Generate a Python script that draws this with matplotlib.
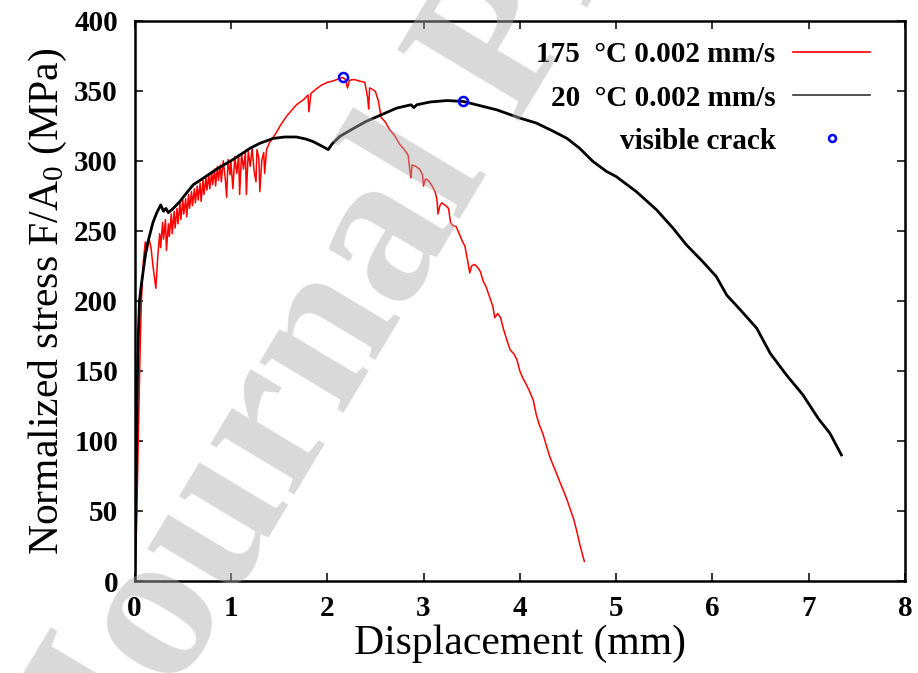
"""Normalized stress vs displacement for two test temperatures, gnuplot-like styling."""

import matplotlib

matplotlib.use("Agg")
import matplotlib.pyplot as plt
from matplotlib.lines import Line2D

plt.rcParams["font.family"] = ["Liberation Serif", "DejaVu Serif"]
plt.rcParams["mathtext.fontset"] = "custom"
plt.rcParams["mathtext.rm"] = "Liberation Serif"
plt.rcParams["mathtext.it"] = "Liberation Serif:italic"

# 175 C, 0.002 mm/s (serrated curve)
hot_x = [0.0, 0.02, 0.04, 0.06, 0.07, 0.09, 0.11, 0.13, 0.15, 0.17, 0.19, 0.22, 0.24, 0.26, 0.27,
         0.29, 0.30, 0.32, 0.33, 0.35, 0.36, 0.38, 0.39, 0.41, 0.42, 0.44, 0.45, 0.47, 0.48, 0.50,
         0.51, 0.53, 0.54, 0.56, 0.57, 0.59, 0.60, 0.62, 0.63, 0.65, 0.66, 0.68, 0.69, 0.71, 0.72,
         0.74, 0.75, 0.77, 0.78, 0.80, 0.81, 0.83, 0.84, 0.86, 0.87, 0.89, 0.90, 0.92, 0.94, 0.955,
         0.97, 0.99, 1.00, 1.02, 1.04, 1.06, 1.08, 1.09, 1.11, 1.13, 1.15, 1.16, 1.18, 1.20, 1.22,
         1.24, 1.26, 1.27, 1.29, 1.30, 1.32, 1.34, 1.35, 1.37, 1.40, 1.44, 1.47, 1.52, 1.58, 1.63,
         1.68, 1.72, 1.76, 1.80, 1.81, 1.83, 1.88, 1.94, 2.00, 2.06, 2.12, 2.16, 2.19, 2.21, 2.23,
         2.28, 2.33, 2.39, 2.42, 2.43, 2.44, 2.47, 2.50, 2.53, 2.56, 2.60, 2.65, 2.70, 2.75, 2.80,
         2.84, 2.86, 2.87, 2.88, 2.92, 2.96, 2.99, 3.00, 3.02, 3.05, 3.09, 3.12, 3.14, 3.15, 3.17,
         3.19, 3.23, 3.26, 3.28, 3.30, 3.34, 3.37, 3.40, 3.43, 3.46, 3.48, 3.50, 3.53, 3.56, 3.59,
         3.62, 3.65, 3.68, 3.72, 3.74, 3.77, 3.80, 3.83, 3.87, 3.90, 3.94, 3.97, 4.00, 4.03, 4.07,
         4.11, 4.14, 4.17, 4.20, 4.24, 4.27, 4.31, 4.35, 4.38, 4.42, 4.45, 4.49, 4.52, 4.56, 4.59,
         4.62, 4.65, 4.67]
hot_y = [0, 40, 110, 175, 200, 228, 242, 236, 244, 238, 225, 209, 232, 248, 238,
         256, 244, 258, 236, 255, 246, 262, 248, 264, 252, 266, 255, 270, 258, 272,
         262, 273, 260, 276, 266, 278, 268, 280, 270, 282, 272, 284, 271, 286, 276,
         288, 279, 290, 280, 292, 283, 294, 282, 296, 286, 297, 285, 300, 288, 274,
         301, 290, 299, 280, 303, 291, 304, 276, 305, 294, 306, 276, 307, 296, 309,
         293, 285, 308, 302, 278, 300, 306, 291, 308, 313, 317, 320, 326, 332, 336,
         340, 342, 344, 347, 335, 348, 351, 354, 356, 357, 358.5, 359.5, 358, 352, 357.5,
         358, 357, 356, 345, 337, 352, 351, 349.5, 343, 331, 328, 322, 318, 312, 308,
         304, 292, 288, 297, 296, 294, 290, 282, 287, 286, 282, 278, 272, 262, 268,
         270, 268, 266, 256, 254, 253, 248, 243, 239, 228, 220, 225, 226, 224, 221,
         214, 210, 204, 196, 188, 191, 188, 180, 171, 165, 162, 158, 150, 145, 140,
         134, 129, 119, 112, 105, 98, 89, 82, 77, 70, 65, 58, 52, 44, 36,
         27, 19, 14]

# 20 C, 0.002 mm/s
room_x = [0.0, 0.01, 0.02, 0.03, 0.04, 0.05, 0.07, 0.09, 0.11, 0.13, 0.16, 0.19, 0.23, 0.27, 0.30,
          0.325, 0.35, 0.40, 0.47, 0.55, 0.61, 0.70, 0.85, 1.00, 1.09, 1.20, 1.30, 1.44, 1.56, 1.68,
          1.78, 1.85, 1.93, 2.01, 2.05, 2.13, 2.27, 2.40, 2.55, 2.72, 2.87, 2.90, 2.93, 3.07, 3.24,
          3.41, 3.59, 3.76, 4.00, 4.17, 4.35, 4.49, 4.62, 4.76, 4.90, 5.00, 5.21, 5.42, 5.59, 5.73,
          5.90, 6.04, 6.15, 6.29, 6.46, 6.60, 6.77, 6.94, 7.10, 7.22, 7.34]
room_y = [0, 40, 100, 150, 180, 200, 212, 222, 232, 240, 248, 256, 263, 268.5, 264,
          266, 263, 266, 271, 278, 283, 287, 294, 300, 304, 309, 312.5, 316, 317, 317,
          315.5, 313.8, 311, 308, 312, 317.4, 323, 328, 332.5, 337.6, 340, 338, 340, 342, 343,
          342.4, 339.3, 336.4, 330.5, 327, 321, 316, 309, 299.5, 292.4, 288.8, 278, 265, 252, 240,
          228, 217.4, 204, 193.6, 180.5, 162.6, 147, 132.9, 116, 105.5, 90]

# onset of visible cracking
crack_x = [2.16, 3.41]
crack_y = [359.5, 342.5]

x_ticks = [0, 1, 2, 3, 4, 5, 6, 7, 8]
y_ticks = [0, 50, 100, 150, 200, 250, 300, 350, 400]

labels = ["175  \u00b0C 0.002 mm/s", "20  \u00b0C 0.002 mm/s", "visible crack"]

fig = plt.figure(figsize=(9.18, 6.73), dpi=100)
ax = fig.add_axes([0.1467, 0.1367, 0.8391, 0.8325])

ax.plot(hot_x, hot_y, color="red", lw=1.1, zorder=2)
ax.plot(room_x, room_y, color="black", lw=2.0, zorder=3)
ax.plot(crack_x, crack_y, ls="none", marker="o", ms=6.5, mfc="none", mec="blue", mew=1.8, zorder=4)

ax.set_xlim(0, 8)
ax.set_ylim(0, 400)
ax.set_xticks(x_ticks)
ax.set_yticks(y_ticks)
ax.tick_params(direction="in", length=6, width=1.1, top=True, right=True, labelsize=21)
ax.tick_params(axis="x", pad=10)
ax.tick_params(axis="y", pad=12)
for lab in ax.get_xticklabels() + ax.get_yticklabels():
    lab.set_fontweight("bold")
for sp in ax.spines.values():
    sp.set_linewidth(1.8)

ax.set_xlabel("Displacement (mm)", fontsize=30)
ax.set_ylabel("Normalized stress F/A$_0$ (MPa)", fontsize=30)
ax.xaxis.set_label_coords(0.5, -0.077)
ax.yaxis.set_label_coords(-0.085, 0.5)

handles = [
    Line2D([], [], color="red", lw=1.2),
    Line2D([], [], color="#333333", lw=1.2),
    Line2D([], [], ls="none", marker="o", ms=5, mfc="none", mec="blue", mew=1.8),
]
ax.legend(handles, labels, loc="upper right", bbox_to_anchor=(0.955, 0.963), frameon=False,
          markerfirst=False, borderpad=0, borderaxespad=0, handlelength=2.65, handletextpad=0.6,
          labelspacing=0.55, prop={"family": "Liberation Serif", "weight": "bold", "size": 21})

# journal watermark
fig.text(120 / 918, 1 - 786 / 673, "Journal Pre-proof", rotation=59, rotation_mode="anchor",
         ha="left", va="baseline", fontsize=155, fontweight="bold", color="#aaaaaa", alpha=0.45,
         zorder=10)

fig.savefig("out.png", dpi=100)
